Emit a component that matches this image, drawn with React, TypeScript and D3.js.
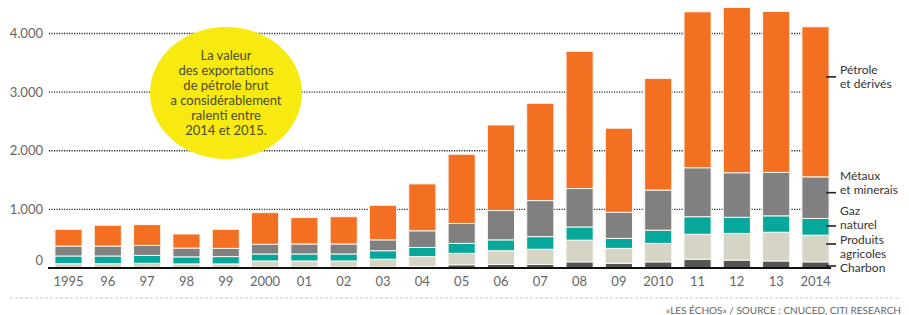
import { useEffect, useRef } from "react";
import * as d3 from "d3";

// export values by product, in billions of dollars
const years = ["1995", "96", "97", "98", "99", "2000", "01", "02", "03", "04", "05", "06", "07", "08", "09", "2010", "11", "12", "13", "2014"];
const charbon = [5, 5, 5, 5, 5, 15, 15, 15, 15, 25, 55, 60, 60, 105, 80, 105, 150, 135, 120, 105];
const agricoles = [70, 70, 75, 65, 65, 105, 105, 105, 135, 170, 195, 235, 260, 370, 255, 315, 425, 455, 490, 455];
const gaz = [130, 130, 135, 120, 125, 120, 120, 120, 145, 155, 170, 185, 215, 225, 170, 225, 300, 275, 280, 285];
const metaux = [170, 170, 170, 150, 140, 165, 170, 170, 185, 285, 340, 500, 615, 655, 445, 685, 835, 760, 740, 710];
const petrole = [285, 355, 355, 240, 325, 540, 450, 465, 590, 800, 1180, 1460, 1660, 2340, 1435, 1905, 2660, 2820, 2745, 2560];

const yTicks = [0, 1000, 2000, 3000, 4000];

const seriesKeys = ["charbon", "agricoles", "gaz", "metaux", "petrole"];
const seriesColors = ["#545454", "#d6d5c5", "#05a89b", "#808080", "#f37022"];

// legend labels, anchored at a value on the y scale
const legendLines = [
  ["Pétrole", "et dérivés"],
  ["Métaux", "et minerais"],
  ["Gaz", "naturel"],
  ["Produits", "agricoles"],
  ["Charbon"],
];
const legendAnchor = [3260, 1285, 717, 410, 34];
const legendFirstLineOffset = [-6.9, -16.7, -15, -4, 2];

const noteLines = ["La valeur", "des exportations", "de pétrole brut", "a considérablement", "ralenti entre", "2014 et 2015."];
const source = "«LES ÉCHOS» / SOURCE : CNUCED, CITI RESEARCH";

export default function App() {
  const ref = useRef(null);

  useEffect(() => {
    buildGraph();
    return () => {
      d3.select(ref.current).selectAll("*").remove();
    };
  }, []);

  function buildGraph({
    width = 909,
    height = 315,
    marginLeft = 49,
    marginRight = 74,
    top = 33.5,
    bottom = 268,
  } = {}) {
    const font = "Lato, 'Open Sans', sans-serif";

    const table = years.map((yr, i) => ({
      year: yr,
      charbon: charbon[i],
      agricoles: agricoles[i],
      gaz: gaz[i],
      metaux: metaux[i],
      petrole: petrole[i],
    }));

    const stack = d3.stack().keys(seriesKeys)(table as any);

    const x = d3.scaleBand()
      .domain(years)
      .range([marginLeft, width - marginRight])
      .paddingInner(0.31)
      .paddingOuter(0.151);

    const y = d3.scaleLinear()
      .domain([0, 4000])
      .range([bottom, top]);

    const svg = d3.select(ref.current).append("svg")
      .attr("width", width)
      .attr("height", height)
      .attr("viewBox", [0, 0, width, height])
      .style("position", "absolute")
      .style("left", 0)
      .style("top", 0)
      .style("background", "#fff");

    const gridEnd = (x("2014") as number) + x.bandwidth();

    // dotted gridlines
    svg.append("g")
      .selectAll("line")
      .data(yTicks.filter(d => d > 0))
      .join("line")
        .attr("x1", marginLeft)
        .attr("x2", gridEnd)
        .attr("y1", d => y(d))
        .attr("y2", d => y(d))
        .attr("stroke", "#2b2b2b")
        .attr("stroke-width", 1.4)
        .attr("stroke-dasharray", "1.2,1.3");

    // y labels
    svg.append("g")
        .attr("font-family", font)
        .attr("font-size", 13)
        .attr("fill", "#666")
        .attr("text-anchor", "end")
      .selectAll("text")
      .data(yTicks)
      .join("text")
        .attr("x", marginLeft - 6)
        .attr("y", d => (d === 0 ? y(d) - 8 : y(d)))
        .attr("dy", "0.35em")
        .text(d => d3.format(",")(d).replace(",", "."));

    // yellow note
    const note = svg.append("g");
    note.append("ellipse")
      .attr("cx", 226)
      .attr("cy", 93)
      .attr("rx", 76)
      .attr("ry", 66)
      .attr("fill", "#f8ea10");
    note.append("g")
        .attr("font-family", font)
        .attr("font-size", 13)
        .attr("fill", "#4d4a32")
        .attr("text-anchor", "middle")
      .selectAll("text")
      .data(noteLines)
      .join("text")
        .attr("x", 226)
        .attr("y", (d, i) => 55 + i * 15)
        .attr("dy", "0.35em")
        .text(d => d);

    // stacked bars
    svg.append("g")
      .selectAll("g")
      .data(stack)
      .join("g")
        .attr("fill", (d, i) => seriesColors[i])
      .selectAll("rect")
      .data(d => d)
      .join("rect")
        .attr("x", (d: any) => x(d.data.year) as number)
        .attr("width", x.bandwidth())
        .attr("y", d => y(d[1]))
        .attr("height", d => y(d[0]) - y(d[1]))
        .attr("stroke", "#fbf7f0")
        .attr("stroke-width", 1);

    // baseline
    svg.append("line")
      .attr("x1", marginLeft - 1)
      .attr("x2", gridEnd + 2)
      .attr("y1", y(0))
      .attr("y2", y(0))
      .attr("stroke", "#111")
      .attr("stroke-width", 2);

    // x labels
    svg.append("g")
        .attr("font-family", font)
        .attr("font-size", 13)
        .attr("fill", "#666")
        .attr("text-anchor", "middle")
      .selectAll("text")
      .data(years)
      .join("text")
        .attr("x", d => (x(d) as number) + x.bandwidth() / 2)
        .attr("y", y(0) + 13)
        .attr("dy", "0.35em")
        .text(d => d);

    // legend on the right
    const legend = svg.append("g")
        .attr("font-family", font)
        .attr("font-size", 12)
        .attr("fill", "#333");
    legendLines.forEach((lines, i) => {
      const ly = y(legendAnchor[i]);
      legend.append("line")
        .attr("x1", gridEnd - 3)
        .attr("x2", gridEnd + 7)
        .attr("y1", ly)
        .attr("y2", ly)
        .attr("stroke", "#222")
        .attr("stroke-width", 1.6);
      legend.selectAll(null)
        .data(lines)
        .join("text")
          .attr("x", gridEnd + 11)
          .attr("y", (d, j) => ly + legendFirstLineOffset[i] + j * 13.8)
          .attr("dy", "0.35em")
          .text(d => d);
    });

    // footer
    svg.append("line")
      .attr("x1", 10)
      .attr("x2", width - 8)
      .attr("y1", 298)
      .attr("y2", 298)
      .attr("stroke", "#bbb")
      .attr("stroke-width", 0.8)
      .attr("stroke-dasharray", "3,2");
    svg.append("text")
      .attr("x", width - 8)
      .attr("y", 310)
      .attr("dy", "0.35em")
      .attr("text-anchor", "end")
      .attr("font-family", font)
      .attr("font-size", 10)
      .attr("fill", "#666")
      .text(source);
  }

  return (<>
    <div ref={ref}></div>
  </>);
}
